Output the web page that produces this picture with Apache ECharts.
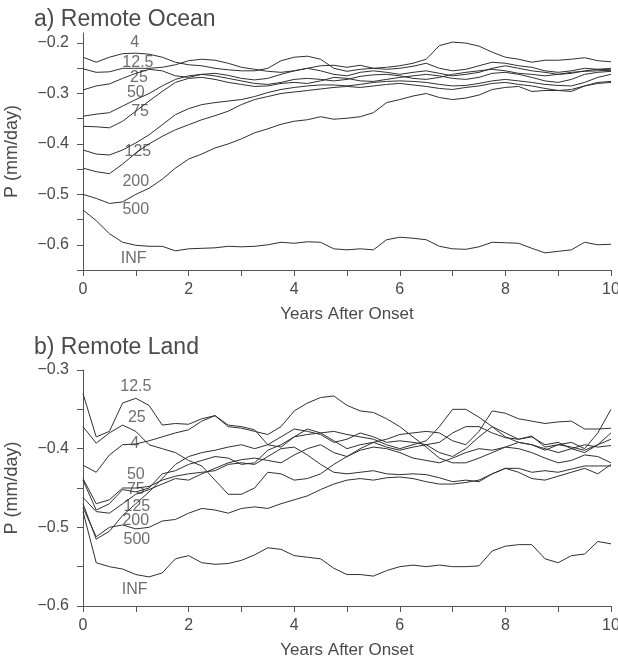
<!DOCTYPE html>
<html>
<head>
<meta charset="utf-8">
<script src="https://cdn.jsdelivr.net/npm/echarts@6/dist/echarts.min.js"></script>
<style>html,body{margin:0;padding:0;background:#fff;}#c{width:618px;height:658px;}</style>
</head>
<body>
<div id="c"></div>
<script>
// ---------- data ----------
const years = [0,0.25,0.5,0.75,1,1.25,1.5,1.75,2,2.25,2.5,2.75,3,3.25,3.5,3.75,4,4.25,4.5,4.75,5,5.25,5.5,5.75,6,6.25,6.5,6.75,7,7.25,7.5,7.75,8,8.25,8.5,8.75,9,9.25,9.5,9.75,10];

const seriesNames = ["4","12.5","25","50","75","125","200","500","INF"];

// a) Remote Ocean
const ocean4   = [-0.228,-0.238,-0.228,-0.221,-0.220,-0.222,-0.228,-0.238,-0.243,-0.245,-0.250,-0.253,-0.255,-0.255,-0.250,-0.235,-0.228,-0.226,-0.232,-0.250,-0.256,-0.252,-0.250,-0.248,-0.245,-0.240,-0.232,-0.205,-0.198,-0.200,-0.206,-0.218,-0.228,-0.232,-0.238,-0.234,-0.234,-0.232,-0.229,-0.235,-0.237];
const ocean12_5= [-0.251,-0.258,-0.257,-0.250,-0.250,-0.250,-0.248,-0.243,-0.235,-0.232,-0.234,-0.240,-0.248,-0.252,-0.256,-0.258,-0.255,-0.250,-0.245,-0.244,-0.248,-0.244,-0.250,-0.252,-0.250,-0.246,-0.240,-0.250,-0.255,-0.252,-0.245,-0.238,-0.240,-0.245,-0.248,-0.255,-0.258,-0.255,-0.250,-0.252,-0.250];
const ocean25  = [-0.293,-0.285,-0.281,-0.270,-0.260,-0.252,-0.255,-0.265,-0.268,-0.262,-0.260,-0.264,-0.270,-0.273,-0.270,-0.262,-0.255,-0.250,-0.255,-0.262,-0.265,-0.258,-0.255,-0.258,-0.262,-0.258,-0.255,-0.260,-0.265,-0.262,-0.258,-0.250,-0.245,-0.250,-0.255,-0.258,-0.262,-0.260,-0.255,-0.252,-0.253];
const ocean50  = [-0.345,-0.341,-0.338,-0.325,-0.312,-0.300,-0.285,-0.272,-0.265,-0.262,-0.265,-0.270,-0.275,-0.280,-0.282,-0.278,-0.272,-0.270,-0.272,-0.275,-0.272,-0.266,-0.263,-0.262,-0.265,-0.270,-0.272,-0.268,-0.262,-0.258,-0.255,-0.252,-0.255,-0.260,-0.262,-0.265,-0.262,-0.258,-0.256,-0.255,-0.254];
const ocean75  = [-0.365,-0.366,-0.368,-0.355,-0.335,-0.315,-0.296,-0.278,-0.270,-0.268,-0.272,-0.278,-0.282,-0.286,-0.285,-0.280,-0.278,-0.280,-0.275,-0.268,-0.270,-0.275,-0.276,-0.272,-0.268,-0.265,-0.262,-0.265,-0.270,-0.272,-0.268,-0.260,-0.258,-0.262,-0.268,-0.275,-0.278,-0.272,-0.262,-0.258,-0.256];
const ocean125 = [-0.412,-0.420,-0.422,-0.412,-0.398,-0.382,-0.362,-0.342,-0.330,-0.322,-0.318,-0.315,-0.312,-0.306,-0.298,-0.292,-0.288,-0.285,-0.283,-0.283,-0.285,-0.282,-0.278,-0.276,-0.275,-0.276,-0.278,-0.282,-0.285,-0.284,-0.280,-0.275,-0.272,-0.275,-0.278,-0.282,-0.284,-0.285,-0.278,-0.268,-0.262];
const ocean200 = [-0.448,-0.455,-0.459,-0.440,-0.418,-0.400,-0.385,-0.372,-0.362,-0.352,-0.344,-0.335,-0.322,-0.312,-0.306,-0.300,-0.297,-0.294,-0.291,-0.288,-0.286,-0.288,-0.285,-0.282,-0.280,-0.283,-0.286,-0.290,-0.292,-0.288,-0.285,-0.280,-0.278,-0.282,-0.285,-0.290,-0.294,-0.292,-0.285,-0.280,-0.278];
const ocean500 = [-0.500,-0.508,-0.518,-0.515,-0.500,-0.488,-0.470,-0.448,-0.430,-0.420,-0.408,-0.400,-0.390,-0.378,-0.370,-0.361,-0.355,-0.352,-0.346,-0.351,-0.349,-0.346,-0.338,-0.318,-0.312,-0.305,-0.300,-0.308,-0.312,-0.309,-0.303,-0.292,-0.288,-0.286,-0.296,-0.294,-0.294,-0.296,-0.285,-0.278,-0.276];
const oceanINF = [-0.531,-0.552,-0.578,-0.595,-0.601,-0.603,-0.603,-0.612,-0.608,-0.607,-0.606,-0.603,-0.604,-0.603,-0.600,-0.595,-0.597,-0.594,-0.595,-0.608,-0.610,-0.608,-0.610,-0.590,-0.585,-0.587,-0.590,-0.603,-0.608,-0.609,-0.604,-0.595,-0.596,-0.597,-0.607,-0.616,-0.613,-0.610,-0.595,-0.600,-0.599];

// b) Remote Land
const land4   = [-0.421,-0.430,-0.408,-0.395,-0.394,-0.390,-0.385,-0.380,-0.376,-0.365,-0.358,-0.370,-0.372,-0.376,-0.395,-0.398,-0.385,-0.375,-0.380,-0.378,-0.382,-0.385,-0.388,-0.395,-0.400,-0.395,-0.390,-0.372,-0.350,-0.350,-0.360,-0.372,-0.385,-0.392,-0.395,-0.402,-0.395,-0.392,-0.400,-0.380,-0.350];
const land12_5= [-0.330,-0.385,-0.378,-0.342,-0.336,-0.345,-0.370,-0.368,-0.369,-0.362,-0.358,-0.372,-0.374,-0.378,-0.382,-0.372,-0.352,-0.342,-0.335,-0.333,-0.345,-0.352,-0.354,-0.362,-0.372,-0.385,-0.398,-0.412,-0.418,-0.418,-0.412,-0.405,-0.398,-0.392,-0.395,-0.400,-0.405,-0.400,-0.395,-0.398,-0.396];
const land25  = [-0.372,-0.393,-0.380,-0.370,-0.378,-0.395,-0.400,-0.405,-0.415,-0.422,-0.440,-0.458,-0.458,-0.450,-0.430,-0.432,-0.440,-0.438,-0.432,-0.420,-0.410,-0.400,-0.392,-0.388,-0.382,-0.380,-0.378,-0.380,-0.390,-0.395,-0.378,-0.352,-0.355,-0.362,-0.365,-0.368,-0.366,-0.365,-0.375,-0.375,-0.374];
const land50  = [-0.438,-0.470,-0.465,-0.450,-0.450,-0.448,-0.440,-0.435,-0.432,-0.430,-0.428,-0.420,-0.418,-0.420,-0.410,-0.400,-0.398,-0.408,-0.420,-0.430,-0.432,-0.430,-0.428,-0.432,-0.433,-0.432,-0.433,-0.437,-0.442,-0.440,-0.442,-0.432,-0.425,-0.430,-0.438,-0.440,-0.435,-0.430,-0.425,-0.432,-0.420];
const land75  = [-0.440,-0.478,-0.470,-0.452,-0.455,-0.450,-0.432,-0.428,-0.420,-0.415,-0.410,-0.412,-0.420,-0.418,-0.402,-0.395,-0.385,-0.382,-0.380,-0.390,-0.400,-0.395,-0.392,-0.398,-0.402,-0.398,-0.395,-0.392,-0.380,-0.372,-0.372,-0.380,-0.386,-0.388,-0.384,-0.398,-0.395,-0.398,-0.402,-0.395,-0.380];
const land125 = [-0.462,-0.480,-0.482,-0.470,-0.458,-0.452,-0.445,-0.438,-0.440,-0.432,-0.425,-0.418,-0.414,-0.412,-0.415,-0.418,-0.408,-0.400,-0.395,-0.405,-0.410,-0.402,-0.398,-0.400,-0.405,-0.412,-0.415,-0.418,-0.412,-0.405,-0.400,-0.402,-0.398,-0.400,-0.405,-0.412,-0.418,-0.415,-0.408,-0.410,-0.418];
const land200 = [-0.470,-0.515,-0.505,-0.485,-0.470,-0.455,-0.438,-0.420,-0.410,-0.405,-0.402,-0.398,-0.395,-0.400,-0.395,-0.385,-0.375,-0.378,-0.382,-0.392,-0.388,-0.380,-0.385,-0.392,-0.390,-0.392,-0.395,-0.405,-0.410,-0.400,-0.385,-0.372,-0.380,-0.388,-0.385,-0.395,-0.392,-0.400,-0.405,-0.395,-0.388];
const land500 = [-0.475,-0.512,-0.500,-0.497,-0.502,-0.500,-0.492,-0.490,-0.482,-0.476,-0.478,-0.482,-0.476,-0.474,-0.476,-0.470,-0.465,-0.460,-0.452,-0.445,-0.440,-0.438,-0.440,-0.437,-0.436,-0.438,-0.442,-0.445,-0.445,-0.443,-0.440,-0.432,-0.425,-0.425,-0.430,-0.428,-0.430,-0.426,-0.422,-0.422,-0.422];
const landINF = [-0.480,-0.545,-0.550,-0.553,-0.560,-0.563,-0.558,-0.540,-0.536,-0.545,-0.547,-0.546,-0.542,-0.535,-0.526,-0.528,-0.536,-0.538,-0.540,-0.552,-0.560,-0.560,-0.562,-0.555,-0.550,-0.548,-0.550,-0.548,-0.550,-0.550,-0.549,-0.530,-0.524,-0.522,-0.522,-0.540,-0.545,-0.536,-0.534,-0.518,-0.521];

// curve-label anchor points (data units), same order as seriesNames
const oceanLabelX = [0.98,1.04,1.06,1.0,1.08,1.04,1.0,1.0,0.96];
const oceanLabelY = [-0.200,-0.239,-0.269,-0.298,-0.336,-0.416,-0.475,-0.531,-0.627];
const landLabelX  = [0.98,1.0,1.02,1.0,1.0,1.02,1.0,1.02,0.98];
const landLabelY  = [-0.393,-0.321,-0.360,-0.433,-0.452,-0.474,-0.491,-0.516,-0.579];

// axis ticks
const xTicks = [0,1,2,3,4,5,6,7,8,9,10];
const xTickLabels = [0,2,4,6,8,10];
const oceanYTicks = [-0.65,-0.6,-0.55,-0.5,-0.45,-0.4,-0.35,-0.3,-0.25,-0.2];
const oceanYLabels = [-0.6,-0.5,-0.4,-0.3,-0.2];
const landYTicks = [-0.6,-0.55,-0.5,-0.45,-0.4,-0.35,-0.3];
const landYLabels = [-0.6,-0.5,-0.4,-0.3];

const panelTitles = ["a) Remote Ocean","b) Remote Land"];
const xName = "Years After Onset";
const yName = "P (mm/day)";

// ---------- chart ----------
const FONT = "Liberation Sans";
const TXT = "#4a4a4a";
const LINE = "#303030";
const oceanSeries = [ocean4,ocean12_5,ocean25,ocean50,ocean75,ocean125,ocean200,ocean500,oceanINF];
const landSeries  = [land4,land12_5,land25,land50,land75,land125,land200,land500,landINF];

function fmtY(v){ return v.toFixed(1).replace('-', '\u2212'); }

function xAxisFor(gi){
  return {
    type:'value', gridIndex:gi, min:0, max:10, interval:1,
    name:xName, nameLocation:'middle', nameGap:36,
    nameTextStyle:{fontFamily:FONT,fontSize:17,color:TXT},
    axisLine:{show:true,onZero:false,lineStyle:{color:'#555',width:1}},
    axisTick:{show:true,length:6,lineStyle:{color:'#555'},customValues:xTicks},
    axisLabel:{fontFamily:FONT,fontSize:16,color:TXT,margin:12,customValues:xTickLabels,formatter:v=>String(v)},
    splitLine:{show:false}
  };
}
function yAxisFor(gi,min,max,ticks,labels){
  return {
    type:'value', gridIndex:gi, min:min, max:max, interval:0.05,
    name:yName, nameLocation:'middle', nameGap:62, nameRotate:90,
    nameTextStyle:{fontFamily:FONT,fontSize:18,color:TXT},
    axisLine:{show:true,onZero:false,lineStyle:{color:'#555',width:1}},
    axisTick:{show:true,length:6,lineStyle:{color:'#555'},customValues:ticks},
    axisLabel:{fontFamily:FONT,fontSize:16,color:TXT,margin:14,customValues:labels,formatter:fmtY},
    splitLine:{show:false}
  };
}

const series = [];
oceanSeries.forEach((arr,i)=>{
  series.push({type:'line',xAxisIndex:0,yAxisIndex:0,name:'o'+seriesNames[i],
    data:years.map((x,k)=>[x,arr[k]]),showSymbol:false,smooth:false,
    lineStyle:{color:LINE,width:1},silent:true,animation:false});
});
landSeries.forEach((arr,i)=>{
  series.push({type:'line',xAxisIndex:1,yAxisIndex:1,name:'l'+seriesNames[i],
    data:years.map((x,k)=>[x,arr[k]]),showSymbol:false,smooth:false,
    lineStyle:{color:LINE,width:1},silent:true,animation:false});
});
const lblStyle = {show:true,position:'inside',fontFamily:FONT,fontSize:16,color:TXT,formatter:p=>p.value[2]};
series.push({type:'scatter',xAxisIndex:0,yAxisIndex:0,symbolSize:0,silent:true,animation:false,
  data:seriesNames.map((n,i)=>[oceanLabelX[i],oceanLabelY[i],n]),label:lblStyle});
series.push({type:'scatter',xAxisIndex:1,yAxisIndex:1,symbolSize:0,silent:true,animation:false,
  data:seriesNames.map((n,i)=>[landLabelX[i],landLabelY[i],n]),label:lblStyle});

const chart = echarts.init(document.getElementById('c'),null,{renderer:'canvas'});
chart.setOption({
  backgroundColor:'#fff',
  animation:false,
  title:[
    {text:panelTitles[0],left:29,top:3,textStyle:{fontFamily:FONT,fontSize:23,fontWeight:'normal',color:TXT}},
    {text:panelTitles[1],left:29,top:331,textStyle:{fontFamily:FONT,fontSize:23,fontWeight:'normal',color:TXT}}
  ],
  grid:[
    {left:83,top:33,width:528,height:237,containLabel:false,outerBoundsMode:'none'},
    {left:83,top:370,width:528,height:236,containLabel:false,outerBoundsMode:'none'}
  ],
  xAxis:[xAxisFor(0),xAxisFor(1)],
  yAxis:[yAxisFor(0,-0.65,-0.18,oceanYTicks,oceanYLabels), yAxisFor(1,-0.6,-0.3,landYTicks,landYLabels)],
  series:series
});
</script>
</body>
</html>
